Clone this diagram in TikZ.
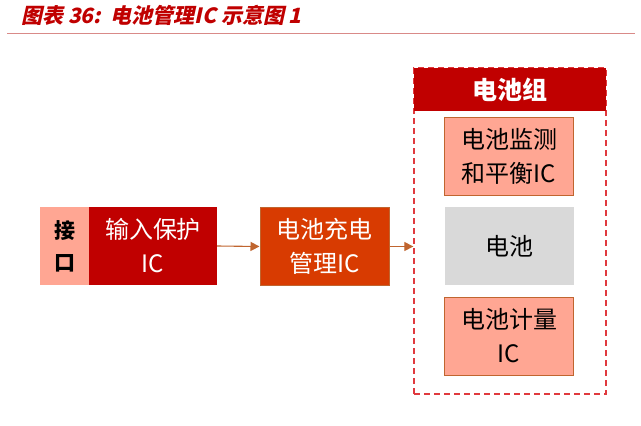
\documentclass[tikz,border=0pt]{standalone}
\usepackage{fontspec}
\setmainfont{Noto Sans CJK SC}
\newfontfamily\cjktitulo[FakeSlant=0.22]{Noto Sans CJK SC}
\usetikzlibrary{positioning,arrows.meta}
\definecolor{rojooscuro}{HTML}{C00000}
\definecolor{salmon}{HTML}{FFA693}
\definecolor{naranja}{HTML}{D83B01}
\definecolor{marron}{HTML}{C0652F}
\definecolor{gris}{HTML}{D9D9D9}
\definecolor{rojoguion}{HTML}{E0393E}
\definecolor{lineatit}{HTML}{D98A88}
\begin{document}
\begin{tikzpicture}[
    x=1pt, y=-1pt,
    caja/.style={minimum width=129pt, minimum height=78pt, inner sep=0pt,
        align=center, font=\fontsize{24}{34}\selectfont},
    flecha/.style={marron, line width=1.1pt, -{Triangle[length=9pt,width=9pt]}}]
    \useasboundingbox (0,0) rectangle (641,426);

    % Titulo.
    \node[anchor=west, text=rojooscuro, font=\cjktitulo\bfseries\fontsize{21}{24}\selectfont,
        inner sep=0pt] (titulo) at (21,15) {图表 36:\, 电池管理IC 示意图 1};
    \draw[lineatit, line width=0.9pt] (7,33) -- (635,33);

    % Entrada y carga.
    \node[caja, fill=salmon, minimum width=49pt, font=\bfseries\fontsize{21}{32}\selectfont]
        (interfaz) at (64.5,246) {接\\口};
    \node[caja, fill=rojooscuro, text=white, minimum width=128pt]
        (proteccion) at (153,246) {输入保护\\IC};
    \node[caja, fill=naranja, draw=marron, line width=1pt, text=white]
        (carga) at (324.5,246.5) {电池充电\\管理IC};

    % Grupo de baterias.
    \node[draw=rojoguion, dash pattern=on 6pt off 4pt, line width=1.3pt, minimum width=192pt,
        minimum height=326pt, inner sep=0pt] (grupo) at (510,231) {};
    \node[fill=rojooscuro, text=white, minimum width=192pt, minimum height=43pt,
        inner sep=0pt, font=\bfseries\fontsize{25}{28}\selectfont]
        (cabecera) at (510,89.5) {电池组};
    \node[caja, fill=salmon, draw=marron, line width=1pt] (monitor) at (509,156) {电池监测\\和平衡IC};
    \node[caja, fill=gris] (bateria) at (509.5,246) {电池};
    \node[caja, fill=salmon, draw=marron, line width=1pt] (medidor) at (509,336) {电池计量\\IC};

    % Flechas.
    \draw[flecha] (proteccion.east) -- (carga.west);
    \draw[flecha] (carga.east) -- (carga.east -| grupo.west);
\end{tikzpicture}
\end{document}
